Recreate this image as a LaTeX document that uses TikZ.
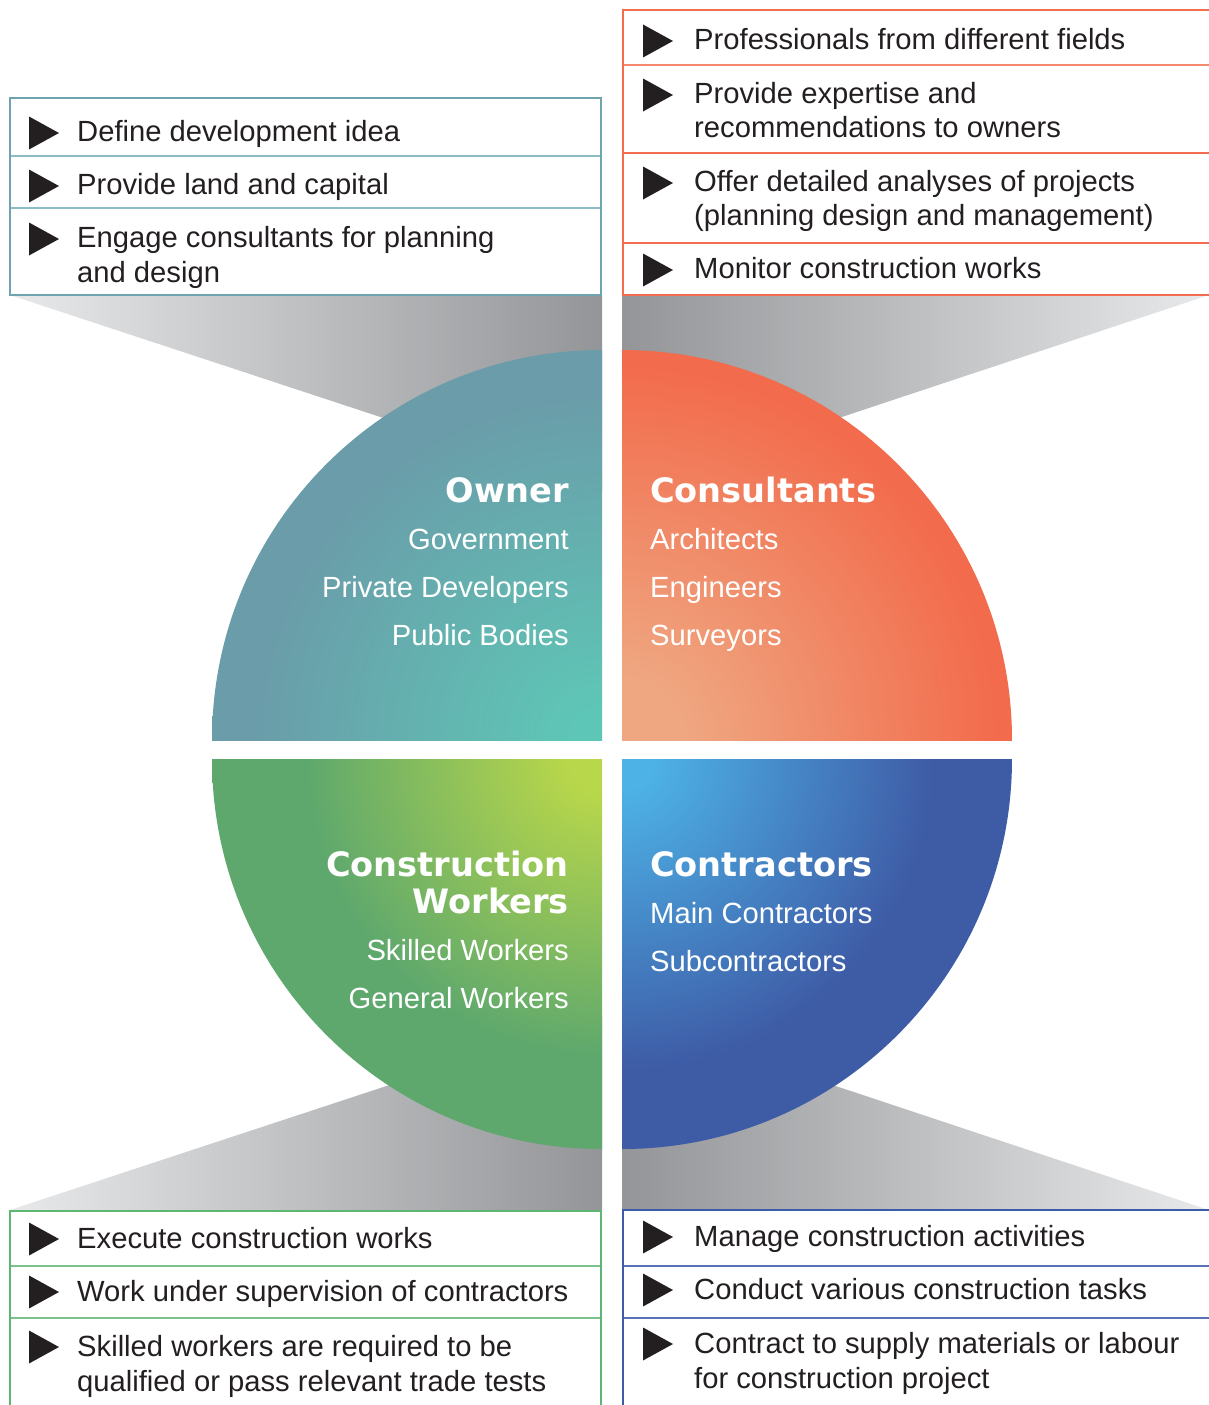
\documentclass[tikz,border=0pt]{standalone}
\usepackage{fontspec}
\setmainfont{Liberation Sans}
\newfontfamily\titlefont{DejaVu Sans}
\definecolor{txt}{HTML}{231F20}
\definecolor{gl}{HTML}{E8E9EA}
\definecolor{gd}{HTML}{939598}
\definecolor{owin}{HTML}{5EC6B6}
\definecolor{owout}{HTML}{6A9DA9}
\definecolor{coin}{HTML}{EFA781}
\definecolor{coout}{HTML}{F26B4C}
\definecolor{wkin}{HTML}{B9D74A}
\definecolor{wkout}{HTML}{5EA86D}
\definecolor{ctin}{HTML}{4DB2E6}
\definecolor{ctout}{HTML}{3E5BA6}
\definecolor{owline}{HTML}{6FA3AE}
\definecolor{owsep}{HTML}{8DBDC4}
\definecolor{coline}{HTML}{F26C4F}
\definecolor{cosep}{HTML}{F4896E}
\definecolor{wkline}{HTML}{5FB572}
\definecolor{wksep}{HTML}{7CC08A}
\definecolor{ctline}{HTML}{3D5CA8}
\definecolor{ctsep}{HTML}{5873B5}
\pgfdeclareradialshading{shOwner}{\pgfpoint{0bp}{0bp}}{color(0bp)=(owin); color(2bp)=(owin); color(22bp)=(owout); color(50bp)=(owout)}
\pgfdeclareradialshading{shCons}{\pgfpoint{0bp}{0bp}}{color(0bp)=(coin); color(4bp)=(coin); color(24bp)=(coout); color(50bp)=(coout)}
\pgfdeclareradialshading{shWork}{\pgfpoint{0bp}{0bp}}{color(0bp)=(wkin); color(2bp)=(wkin); color(19bp)=(wkout); color(50bp)=(wkout)}
\pgfdeclareradialshading{shCont}{\pgfpoint{0bp}{0bp}}{color(0bp)=(ctin); color(2bp)=(ctin); color(20bp)=(ctout); color(50bp)=(ctout)}
\newcommand\bul[2]{\fill[txt] (#1,#2-16.5) -- (#1,#2+16.5) -- (#1+30,#2) -- cycle;}
\begin{document}
\begin{tikzpicture}[x=1pt,y=-1pt,
  itemtxt/.style={anchor=base west, inner sep=0pt, font=\fontsize{29.2}{35}\selectfont, text=txt},
  qleft/.style={anchor=base west, inner sep=0pt, font=\fontsize{29.2}{35}\selectfont, text=white},
  qright/.style={anchor=base east, inner sep=0pt, font=\fontsize{29.2}{35}\selectfont, text=white},
  tleft/.style={anchor=base west, inner sep=0pt, font=\titlefont\bfseries\fontsize{33.6}{37}\selectfont, text=white},
  tright/.style={anchor=base east, inner sep=0pt, font=\titlefont\bfseries\fontsize{33.6}{37}\selectfont, text=white},
  boxline/.style={line width=2.5pt, fill=white},
  sepline/.style={line width=1.6pt}]
\useasboundingbox (0,0) rectangle (1209,1405);
\clip (0,0) rectangle (1209,1405);
\fill[white] (0,0) rectangle (1209,1405);
% funnels
\shade[left color=gl, right color=gd] (10,295) -- (602,295) -- (602,490) -- cycle;
\shade[left color=gd, right color=gl] (622,295) -- (1209,295) -- (622,490) -- cycle;
\shade[left color=gl, right color=gd] (10,1210) -- (602,1210) -- (602,1015) -- cycle;
\shade[left color=gd, right color=gl] (622,1210) -- (1209,1210) -- (622,1015) -- cycle;
% quadrants
\begin{scope}\clip (212,350) rectangle (602,740); \shade[shading=shOwner] (602,740) circle (390pt);\end{scope}
\begin{scope}\clip (622,350) rectangle (1012,740); \shade[shading=shCons] (622,740) circle (390pt);\end{scope}
\begin{scope}\clip (212,759) rectangle (602,1149); \shade[shading=shWork] (602,759) circle (390pt);\end{scope}
\begin{scope}\clip (622,759) rectangle (1012,1149); \shade[shading=shCont] (622,759) circle (390pt);\end{scope}
% quadrant texts
\node[tright] (ow) at (569,502) {Owner};
\node[qright] (ow1) at (569,549) {Government};
\node[qright] (ow2) at (569,597) {Private Developers};
\node[qright] (ow3) at (569,645) {Public Bodies};
\node[tleft] (co) at (650,502) {Consultants};
\node[qleft] (co1) at (650,549) {Architects};
\node[qleft] (co2) at (650,597) {Engineers};
\node[qleft] (co3) at (650,645) {Surveyors};
\node[tright] (wk) at (569,876) {Construction};
\node[tright] (wkb) at (569,913) {Workers};
\node[qright] (wk1) at (569,960) {Skilled Workers};
\node[qright] (wk2) at (569,1008) {General Workers};
\node[tleft] (ct) at (650,876) {Contractors};
\node[qleft] (ct1) at (650,923) {Main Contractors};
\node[qleft] (ct2) at (650,971) {Subcontractors};
% owner box
\draw[boxline, draw=owline] (10,98) rectangle (601,295);
\draw[sepline, owsep] (11,156) -- (600,156);
\draw[sepline, owsep] (11,208) -- (600,208);
\bul{29}{133}\bul{29}{186}\bul{29}{239}
\node[itemtxt] (oa) at (77,141) {Define development idea};
\node[itemtxt] (ob) at (77,194) {Provide land and capital};
\node[itemtxt] (oc) at (77,247) {Engage consultants for planning};
\node[itemtxt] (od) at (77,282) {and design};
% consultants box
\draw[boxline, draw=coline] (623,10) rectangle (1214,295);
\draw[sepline, cosep] (624,65) -- (1209,65);
\draw[sepline, coline] (624,153) -- (1209,153);
\draw[sepline, coline] (624,243) -- (1209,243);
\bul{643}{41}\bul{643}{95}\bul{643}{183}\bul{643}{270}
\node[itemtxt] (ca) at (694,49) {Professionals from different fields};
\node[itemtxt] (cb) at (694,103) {Provide expertise and};
\node[itemtxt] (cc) at (694,137) {recommendations to owners};
\node[itemtxt] (cd) at (694,191) {Offer detailed analyses of projects};
\node[itemtxt] (ce) at (694,225) {(planning design and management)};
\node[itemtxt] (cf) at (694,278) {Monitor construction works};
% workers box
\draw[boxline, draw=wkline] (10,1211) rectangle (601,1412);
\draw[sepline, wksep] (11,1266) -- (600,1266);
\draw[sepline, wksep] (11,1318) -- (600,1318);
\bul{29}{1239}\bul{29}{1292}\bul{29}{1347}
\node[itemtxt] (wa) at (77,1248) {Execute construction works};
\node[itemtxt] (wb) at (77,1301) {Work under supervision of contractors};
\node[itemtxt] (wc) at (77,1356) {Skilled workers are required to be};
\node[itemtxt] (wd) at (77,1391) {qualified or pass relevant trade tests};
% contractors box
\draw[boxline, draw=ctline] (623,1210) rectangle (1214,1412);
\draw[sepline, ctsep] (624,1266) -- (1209,1266);
\draw[sepline, ctsep] (624,1318) -- (1209,1318);
\bul{643}{1237}\bul{643}{1290}\bul{643}{1344}
\node[itemtxt] (ta) at (694,1246) {Manage construction activities};
\node[itemtxt] (tb) at (694,1299) {Conduct various construction tasks};
\node[itemtxt] (tc) at (694,1353) {Contract to supply materials or labour};
\node[itemtxt] (td) at (694,1388) {for construction project};
\end{tikzpicture}
\end{document}
